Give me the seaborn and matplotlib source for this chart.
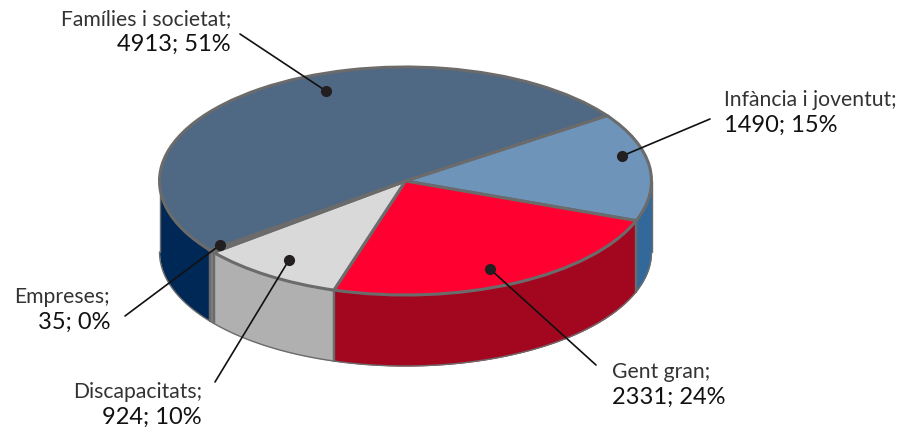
import numpy as np
import matplotlib.pyplot as plt
import seaborn as sns

categories = ['Infància i joventut', 'Gent gran', 'Discapacitats', 'Empreses', 'Famílies i societat']
values = [1490, 2331, 924, 35, 4913]
percents = [15, 24, 10, 0, 51]
top_colors = ['#6e94b9', '#ff0030', '#d9d9d9', '#a6a6a6', '#4f6884']
side_colors = ['#33689b', '#a2071f', '#b0b0b0', '#808080', '#002856']

W, H = 900, 434
CX, CY = 405.5, 181
RX, RY = 246, 114
DEPTH = 71
START = 35
EDGE = '#6b6b6b'

sns.set_theme(style='white')
plt.rcParams['font.family'] = ['Lato', 'DejaVu Sans']


def px(x, y):
    # picture pixels to the unit circle coordinates of the pie
    return (x - CX) / RX, (CY - y) / RY


fig = plt.figure(figsize=(W / 100, H / 100), dpi=100)
ax = fig.add_axes([0, 0, 1, 1])

wedges, _ = ax.pie(values, colors=top_colors, startangle=START, counterclock=False,
                   wedgeprops={'edgecolor': EDGE, 'linewidth': 2.2, 'zorder': 3})
ax.set_aspect('auto')
ax.set_xlim(px(0, 0)[0], px(W, 0)[0])
ax.set_ylim(px(0, H)[1], px(0, 0)[1])
ax.axis('off')

# Side wall: only the front half of the rim can be seen
d = DEPTH / RY
angle = START
for val, col in zip(values, side_colors):
    sweep = 360 * val / sum(values)
    hi, lo = min(angle, 0), max(angle - sweep, -180)
    if hi > lo:
        t = np.radians(np.linspace(lo, hi, 200))
        ax.fill_between(np.cos(t), np.sin(t), np.sin(t) - d, color=col, lw=0, zorder=1)
        ax.plot(np.cos(t), np.sin(t) - d, color=EDGE, lw=1, zorder=2)
        for a in (lo, hi):
            if -180 < a < 0:
                r = np.radians(a)
                ax.plot([np.cos(r)] * 2, [np.sin(r), np.sin(r) - d], color=EDGE, lw=1.6, zorder=2)
    angle -= sweep

# Outer edges of the wall
ax.plot([1, 1], [0, -d], color=EDGE, lw=1, zorder=2)
ax.plot([-1, -1], [0, -d], color=EDGE, lw=1, zorder=2)

# Leader lines: (dot), (far end) in picture pixels
leaders = [((622, 156), (710, 119)), ((490, 269), (596, 365)), ((289, 260), (215, 382)),
           ((220, 245), (125, 316)), ((326, 91), (240, 34))]
for (x0, y0), (x1, y1) in leaders:
    p0, p1 = px(x0, y0), px(x1, y1)
    ax.plot([p0[0], p1[0]], [p0[1], p1[1]], color='#111111', lw=1.2, zorder=4)
    ax.plot(*p0, 'o', color='#231f20', ms=7, zorder=5)

# Label anchors: x, y of the first line, horizontal alignment
anchors = [(724, 100, 'left'), (612, 372, 'left'), (202, 392, 'right'),
           (110, 297, 'right'), (231, 19, 'right')]
for name, val, pct, (x, y, ha) in zip(categories, values, percents, anchors):
    tx, ty = px(x, y)
    ax.text(tx, ty, f'{name};', ha=ha, va='center', fontsize=15.2, color='#333333')
    tx, ty = px(x, y + 25)
    ax.text(tx, ty, f'{val}; {pct}%', ha=ha, va='center', fontsize=17, color='#111111')

fig.savefig('out.png', dpi=100)
